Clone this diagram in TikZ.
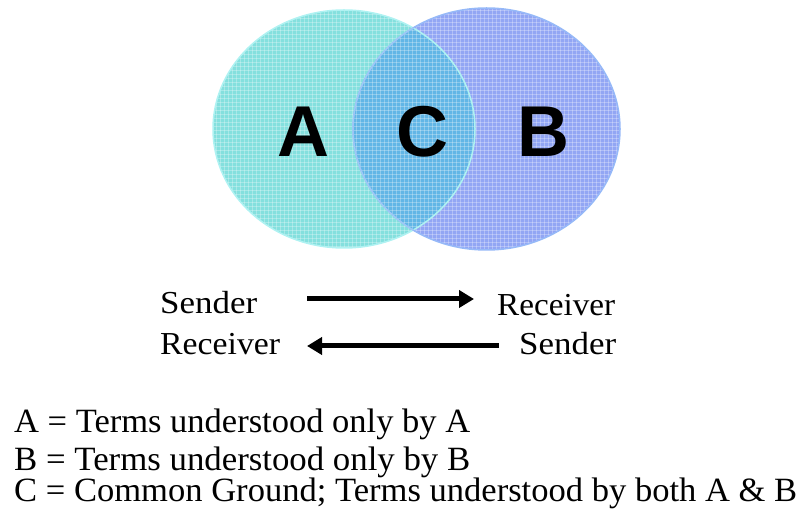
\documentclass[tikz,border=0pt]{standalone}
\usepackage{fontspec}
\setmainfont{Liberation Serif}
\newfontfamily\bigsans{Liberation Sans}
\usetikzlibrary{arrows.meta}
\definecolor{cyanfill}{RGB}{132,224,222}
\definecolor{bluefill}{RGB}{146,166,244}
\definecolor{lensfill}{RGB}{98,182,230}
\definecolor{cyanedge}{RGB}{175,242,242}
\definecolor{blueedge}{RGB}{150,185,248}
\begin{document}
\begin{tikzpicture}[x=1pt,y=-1pt,
  bigletter/.style={font=\bigsans\bfseries\fontsize{72}{72}\selectfont, inner sep=0pt},
  midtext/.style={font=\fontsize{32}{32}\selectfont, inner sep=0pt, anchor=base west},
  legend/.style={font=\fontsize{34}{34}\selectfont, inner sep=0pt, anchor=base west},
  texture/.style={white, opacity=0.28, line width=0.8pt},
  flow/.style={line width=5pt, -{Triangle[length=15pt,width=17pt]}}]
\useasboundingbox (0,0) rectangle (800,510);
% ellipses
\path[fill=cyanfill] (344,129) ellipse [x radius=131, y radius=119];
\path[fill=bluefill] (486.5,129) ellipse [x radius=133.5, y radius=121];
\begin{scope}
  \clip (344,129) ellipse [x radius=131, y radius=119];
  \path[fill=lensfill] (486.5,129) ellipse [x radius=133.5, y radius=121];
\end{scope}
\begin{scope}
  \clip (344,129) ellipse [x radius=131, y radius=119] (486.5,129) ellipse [x radius=133.5, y radius=121];
  \foreach \i in {0,...,110} {
    \draw[texture] (200+\i*4,0) -- (200+\i*4,260);
  }
  \foreach \j in {0,...,65} {
    \draw[texture] (200,2+\j*4) -- (640,2+\j*4);
  }
\end{scope}
\draw[cyanedge, line width=1.5pt] (344,129) ellipse [x radius=131, y radius=119];
\draw[blueedge, line width=1.5pt] (486.5,129) ellipse [x radius=133.5, y radius=121];
\begin{scope}
  \clip (344,129) ellipse [x radius=131, y radius=119];
  \draw[blueedge!70!cyanedge, line width=1.2pt] (486.5,129) ellipse [x radius=133.5, y radius=121];
\end{scope}
\node[bigletter] (A) at (303,132) {A};
\node[bigletter] (C) at (422,132) {C};
\node[bigletter] (B) at (543,132) {B};
% sender / receiver
\node[midtext] (s1) at (160,314) {\resizebox{97pt}{\height}{Sender}};
\node[midtext] (r1) at (497,316) {\resizebox{118pt}{\height}{Receiver}};
\node[midtext] (r2) at (160,354) {\resizebox{120pt}{\height}{Receiver}};
\node[midtext] (s2) at (519,354) {\resizebox{97pt}{\height}{Sender}};
\coordinate (a1s) at (307,299);
\coordinate (a1e) at (474,299);
\coordinate (a2s) at (499,346);
\coordinate (a2e) at (307,346);
\draw[flow] (a1s) -- (a1e);
\draw[flow] (a2s) -- (a2e);
% legend
\node[legend] (l1) at (14,432) {\resizebox{456pt}{\height}{A = Terms understood only by A}};
\node[legend] (l2) at (14,470) {\resizebox{456pt}{\height}{B = Terms understood only by B}};
\node[legend] (l3) at (14,501) {\resizebox{783pt}{\height}{C = Common Ground; Terms understood by both A \& B}};
\end{tikzpicture}
\end{document}
